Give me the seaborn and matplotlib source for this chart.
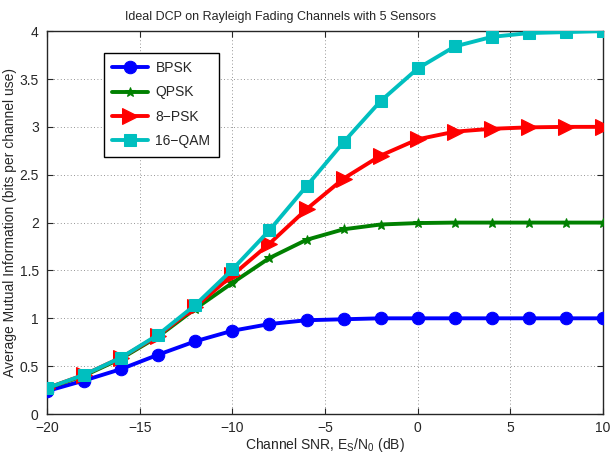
import matplotlib
matplotlib.use("Agg")
import matplotlib.pyplot as plt
import numpy as np
import pandas as pd
import seaborn as sns

# SNR grid (dB)
snr_db = [-20, -18, -16, -14, -12, -10, -8, -6, -4, -2, 0, 2, 4, 6, 8, 10]

# mutual information per scheme
mi_bpsk = [0.24, 0.35, 0.47, 0.62, 0.76, 0.87, 0.94, 0.98, 0.99, 1.0, 1.0, 1.0, 1.0, 1.0, 1.0, 1.0]
mi_qpsk = [0.27, 0.40, 0.58, 0.81, 1.10, 1.37, 1.63, 1.82, 1.93, 1.98, 1.995, 2.0, 2.0, 2.0, 2.0, 2.0]
mi_8psk = [0.27, 0.41, 0.59, 0.82, 1.12, 1.45, 1.78, 2.14, 2.46, 2.70, 2.87, 2.95, 2.98, 2.995, 3.0, 3.0]
mi_16qam = [0.27, 0.41, 0.59, 0.83, 1.14, 1.51, 1.92, 2.38, 2.84, 3.27, 3.61, 3.84, 3.94, 3.98, 3.99, 4.0]

schemes = ["BPSK", "QPSK", "8\u2212PSK", "16\u2212QAM"]

sns.set_style("ticks")
plt.rcParams['font.family'] = ['Liberation Sans', 'DejaVu Sans']

fig = plt.figure(figsize=(6.11, 4.58), dpi=100)
ax = fig.add_axes([0.077, 0.096, 0.91, 0.836])

styles = [
    (mi_bpsk, (0, 0, 1), 'o', 9),
    (mi_qpsk, (0, 0.5, 0), '*', 7),
    (mi_8psk, (1, 0, 0), '>', 11),
    (mi_16qam, (0, 0.75, 0.75), 's', 8),
]

for name, (vals, color, marker, ms) in zip(schemes, styles):
    df = pd.DataFrame({'snr': snr_db, 'mi': vals})
    sns.lineplot(data=df, x='snr', y='mi', ax=ax, color=color, marker=marker,
                 markersize=ms, linewidth=2.8, markeredgecolor=color,
                 label=name, zorder=3)

ax.set_xlim(-20, 10)
ax.set_ylim(0, 4)
ax.set_xticks(np.arange(-20, 11, 5))
ax.set_yticks(np.arange(0, 4.01, 0.5))
ax.set_yticklabels(['0', '0.5', '1', '1.5', '2', '2.5', '3', '3.5', '4'])
ax.set_xticklabels(['\u221220', '\u221215', '\u221210', '\u22125', '0', '5', '10'])
ax.grid(True, linestyle=(0, (1, 3)), color='0.45', linewidth=0.6)
ax.tick_params(direction='in', top=True, right=True, labelsize=10, length=4, width=0.8)
ax.tick_params(axis='y', pad=6)
ax.tick_params(axis='x', pad=5)
for s in ax.spines.values():
    s.set_linewidth(1.0)
    s.set_visible(True)

# title sits left of the axes centre in the reference
ax.set_title("Ideal DCP on Rayleigh Fading Channels with 5 Sensors", fontsize=9, pad=8, x=0.42)
ax.set_xlabel("Channel SNR, E$_\\mathregular{S}$/N$_\\mathregular{0}$ (dB)", fontsize=10, labelpad=1)
ax.set_ylabel("Average Mutual Information (bits per channel use)", fontsize=10, labelpad=2)

leg = ax.legend(loc='upper left', bbox_to_anchor=(0.09, 0.962), fontsize=10,
                frameon=True, fancybox=False, edgecolor='black', framealpha=1,
                handlelength=2.6, handletextpad=0.5, borderpad=0.6, labelspacing=0.75)
leg.get_frame().set_linewidth(1.0)

fig.savefig("out.png", dpi=100)
